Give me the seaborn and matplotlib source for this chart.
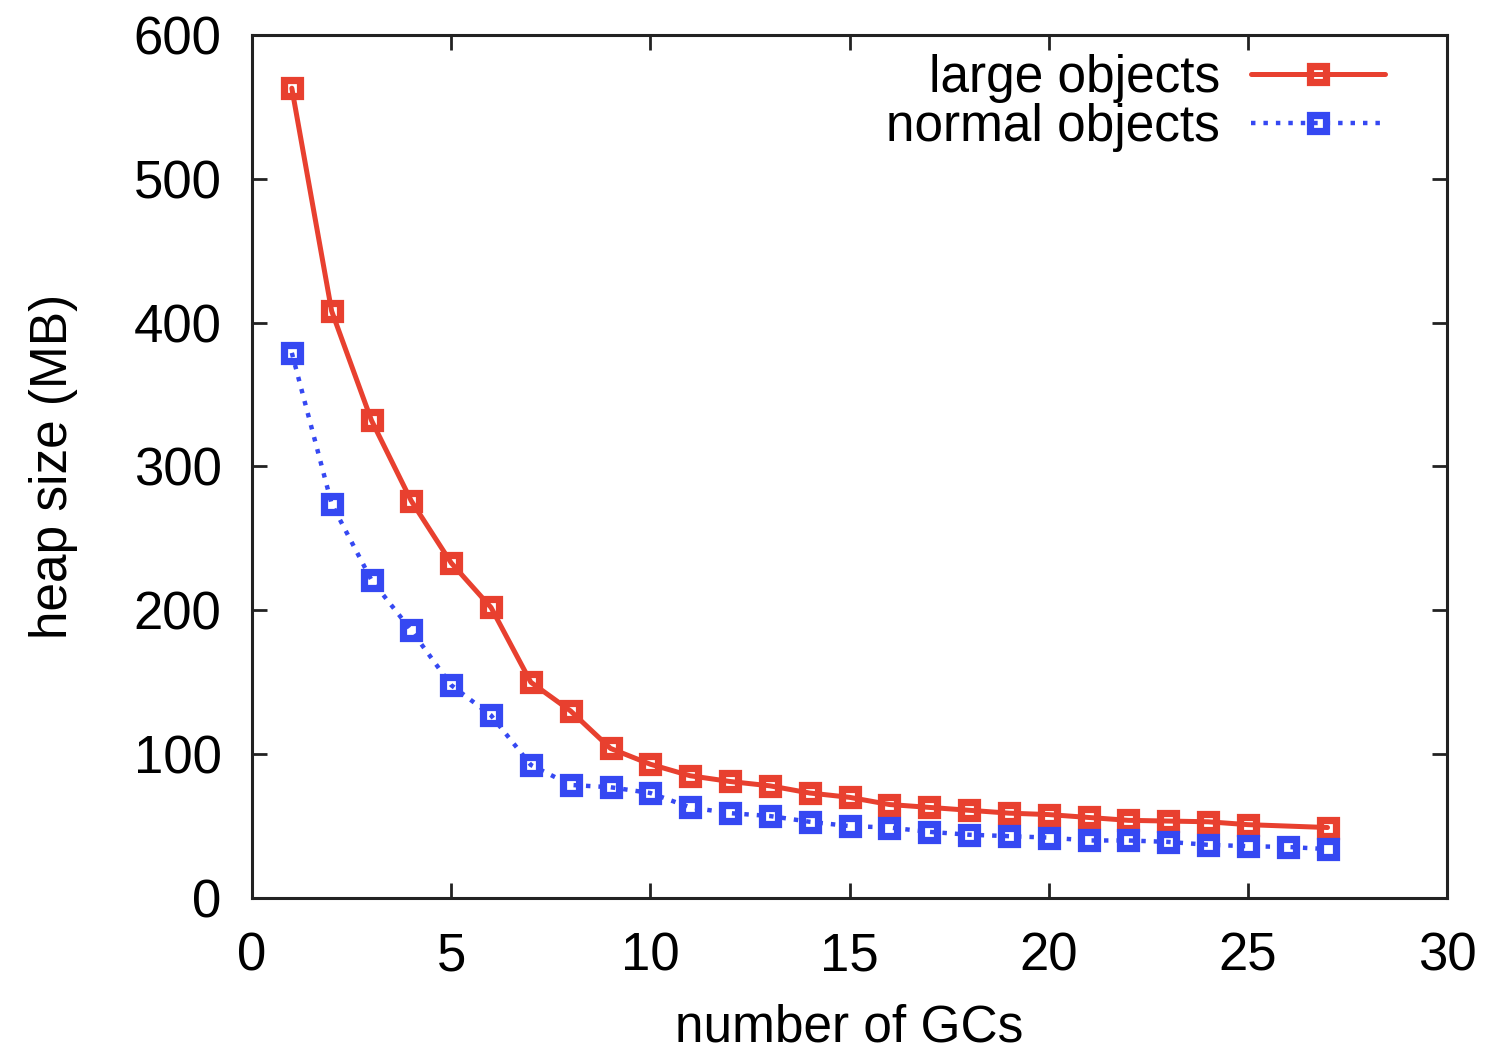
import matplotlib
matplotlib.use("Agg")
import matplotlib.pyplot as plt
import seaborn as sns
import pandas as pd

gcs = list(range(1, 28))
large_objects = [563, 408, 332, 276, 233, 202, 150, 130, 104, 93, 85, 81, 78, 73, 70,
                 65, 63, 61, 59, 58, 56, 54, 53.5, 53, 51, None, 49]
normal_objects = [379, 274, 221, 186, 148, 127, 92.5, 78.6, 77, 73, 63, 59, 57, 53, 50,
                  49, 46, 44, 43, 42, 40, 40, 39, 37, 36, 35.5, 34]

sns.set_theme(style="white")
plt.rcParams['font.family'] = ['Liberation Sans', 'DejaVu Sans']
plt.rcParams['text.color'] = 'black'
plt.rcParams['axes.labelcolor'] = 'black'
plt.rcParams['xtick.color'] = 'black'
plt.rcParams['ytick.color'] = 'black'

fig = plt.figure(figsize=(14.88, 10.54), dpi=100)
ax = fig.add_axes([252/1488, 1-898/1054, (1447-252)/1488, (898-35)/1054])

red = '#e8402f'
blue = '#3548f2'

df_l = pd.DataFrame({'x': gcs, 'y': large_objects}).dropna()
df_n = pd.DataFrame({'x': gcs, 'y': normal_objects})

sns.lineplot(data=df_l, x='x', y='y', ax=ax, color=red, lw=3.6, marker='s',
             markersize=11.5, markerfacecolor='none', markeredgecolor=red,
             markeredgewidth=5.2, label='large objects')
sns.lineplot(data=df_n, x='x', y='y', ax=ax, color=blue, lw=3.2, marker='s',
             linestyle=(0, (1, 1.8)),
             markersize=11.5, markerfacecolor='none', markeredgecolor=blue,
             markeredgewidth=5.2, label='normal objects')

ax.set_xlim(0, 30)
ax.set_ylim(0, 600)
ax.set_xticks(range(0, 31, 5))
ax.set_yticks(range(0, 601, 100))
ax.tick_params(direction='in', length=11, width=2, color='#222222',
               top=True, right=True, bottom=True, left=True, labelsize=38)
ax.tick_params(axis='x', pad=24)
ax.tick_params(axis='y', pad=22)
for s in ax.spines.values():
    s.set_color('#222222')
    s.set_linewidth(2.2)
    s.set_visible(True)

ax.set_xlabel('number of GCs', fontsize=37, labelpad=16)
ax.set_ylabel('heap size (MB)', fontsize=37, labelpad=40)

leg = ax.legend(loc='upper right', frameon=False, markerfirst=False, fontsize=37,
                handlelength=2.6, handletextpad=0.6, labelspacing=0.0,
                borderaxespad=0.0, bbox_to_anchor=(0.965, 1.002))
for t in leg.get_texts():
    t.set_ha('right')

fig.savefig('out.png', dpi=100)
